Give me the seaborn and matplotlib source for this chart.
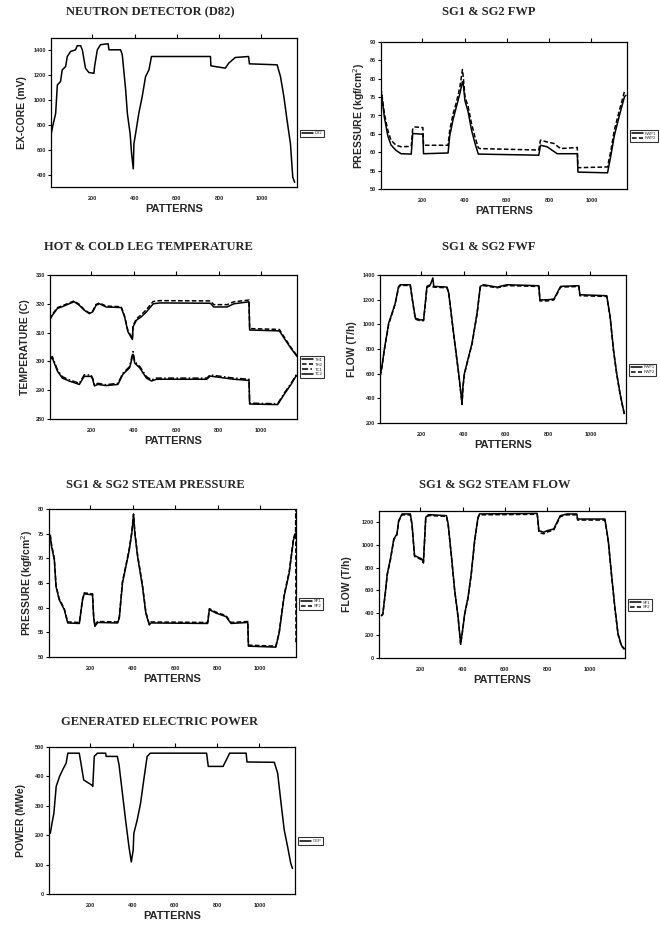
import pandas as pd
import matplotlib
matplotlib.use("Agg")
import matplotlib.pyplot as plt
import seaborn as sns

# ---------- data (pattern, value) ----------
d82 = [(3, 703), (14, 797), (27, 892), (35, 1122), (50, 1149), (58, 1243), (74, 1270), (82, 1351),
       (98, 1392), (113, 1400), (121, 1405), (129, 1438), (145, 1438), (153, 1405), (168, 1257),
       (184, 1222), (208, 1216), (211, 1270), (224, 1405), (239, 1446), (275, 1454), (279, 1405),
       (334, 1405), (342, 1365), (358, 1081), (366, 892), (379, 730), (386, 568), (394, 446),
       (397, 649), (405, 730), (420, 892), (436, 1027), (452, 1189), (468, 1243), (480, 1351),
       (759, 1351), (761, 1276), (782, 1270), (829, 1257), (845, 1297), (876, 1343), (939, 1351),
       (943, 1292), (1074, 1284), (1090, 1189), (1106, 1027), (1121, 838), (1137, 649),
       (1148, 378), (1157, 338)]

fwp1 = [(5, 77), (21, 69.5), (37, 64.5), (52, 62), (76, 60.5), (100, 59.6), (148, 59.5),
        (155, 65.1), (203, 64.9), (206, 59.6), (322, 59.8), (330, 64.5), (346, 69), (362, 72.5),
        (378, 76), (390, 79.2), (394, 78.5), (402, 74), (417, 71), (433, 66), (449, 62.5),
        (465, 59.5), (751, 59.2), (759, 61.9), (790, 61.5), (838, 59.6), (933, 59.6), (936, 54.6),
        (1076, 54.4), (1092, 59.2), (1108, 64.5), (1132, 70), (1156, 75.1), (1163, 75.5)]
fwp2 = [(5, 77.5), (21, 70.5), (37, 66), (52, 63.3), (76, 61.9), (100, 61.5), (148, 61.6),
        (155, 66.5), (163, 66.9), (203, 66.7), (206, 61.9), (322, 61.9), (330, 66), (346, 70.5),
        (362, 73.7), (378, 77.8), (390, 82.5), (394, 80.5), (402, 75.1), (417, 72.4), (433, 67.8),
        (449, 64.2), (465, 61.2), (473, 61), (751, 60.6), (759, 63.3), (790, 62.8), (822, 62.4),
        (854, 61), (933, 61.3), (936, 55.8), (1076, 56), (1092, 60.5), (1108, 66), (1132, 71.4),
        (1156, 76.5), (1163, 76.9)]

th1 = [(3, 314.3), (16, 316), (40, 318.4), (63, 319), (95, 320), (119, 320.7), (143, 319.5),
       (166, 317.8), (190, 316.6), (206, 317.2), (222, 319.5), (238, 320), (269, 318.9),
       (340, 318.7), (356, 315.5), (372, 310.3), (393, 307.6), (396, 312), (412, 314.3),
       (435, 315.5), (459, 317.2), (491, 320), (522, 320.3), (760, 320.2), (776, 318.9),
       (839, 318.9), (871, 320), (942, 320.7), (945, 310.9), (1085, 310.6), (1108, 308),
       (1140, 304.5), (1168, 301.7)]
th2 = [(3, 314.6), (16, 316.3), (40, 318.7), (63, 319.3), (95, 320.3), (119, 321), (143, 319.8),
       (166, 318), (190, 316.8), (206, 317.5), (222, 319.8), (238, 320.3), (269, 319.2),
       (340, 319), (356, 315.8), (372, 310.6), (393, 308), (396, 312.4), (412, 314.8),
       (435, 316.2), (459, 318), (491, 320.8), (522, 321.1), (760, 321), (776, 319.7),
       (839, 319.7), (871, 320.7), (942, 321.3), (945, 311.4), (1085, 311.1), (1108, 308.4),
       (1140, 304.8), (1168, 302)]
tc1 = [(3, 301.1), (16, 301.7), (40, 297.1), (63, 294.7), (95, 293.6), (119, 293), (143, 292.4),
       (166, 295.3), (198, 295.3), (206, 294.2), (214, 291.9), (230, 292.4), (269, 291.9),
       (325, 292.4), (348, 295.9), (380, 298.2), (396, 303.4), (404, 299.9), (428, 298.2),
       (459, 294.7), (483, 293.6), (507, 294.2), (743, 294.2), (759, 295.3), (871, 294.2),
       (942, 293.8), (945, 285.5), (1077, 285.3), (1108, 289), (1140, 292.4), (1164, 295.3),
       (1168, 295.3)]
tc2 = [(3, 300.6), (16, 301.2), (40, 296.6), (63, 294.2), (95, 293.2), (119, 292.6), (143, 292),
       (166, 294.8), (198, 294.8), (206, 293.8), (214, 291.5), (230, 292), (269, 291.6),
       (325, 292), (348, 295.5), (380, 297.8), (396, 302.5), (404, 299.4), (428, 297.7),
       (459, 294.2), (483, 293.2), (507, 293.8), (743, 293.8), (759, 294.9), (871, 293.8),
       (942, 293.4), (945, 285.2), (1077, 285), (1108, 288.6), (1140, 292), (1164, 295),
       (1168, 295)]

fwf1 = [(6, 589), (14, 656), (25, 792), (46, 1009), (62, 1091), (77, 1172), (93, 1308),
        (101, 1321), (148, 1321), (156, 1226), (172, 1050), (196, 1036), (211, 1036),
        (216, 1118), (227, 1308), (243, 1321), (255, 1376), (259, 1308), (322, 1302), (330, 1253),
        (353, 928), (377, 602), (393, 358), (397, 494), (404, 602), (416, 684), (440, 846),
        (464, 1091), (479, 1308), (495, 1321), (558, 1302), (606, 1321), (756, 1313), (761, 1199),
        (796, 1199), (827, 1205), (859, 1308), (945, 1313), (950, 1240), (1077, 1232),
        (1093, 1063), (1109, 792), (1124, 602), (1140, 439), (1153, 331), (1160, 277)]
fwf2 = [(6, 580), (14, 650), (25, 785), (46, 1000), (62, 1085), (77, 1165), (93, 1300),
        (101, 1315), (148, 1316), (156, 1220), (172, 1042), (196, 1028), (211, 1030),
        (216, 1110), (227, 1300), (243, 1314), (259, 1302), (322, 1296), (330, 1246),
        (353, 920), (377, 596), (393, 350), (397, 485), (404, 596), (416, 678), (440, 840),
        (464, 1085), (479, 1300), (495, 1314), (558, 1296), (606, 1314), (756, 1307), (761, 1190),
        (796, 1190), (827, 1198), (859, 1302), (945, 1307), (950, 1232), (1077, 1226),
        (1093, 1056), (1109, 786), (1124, 596), (1140, 432), (1153, 325), (1160, 272)]

sp1 = [(11, 74.4), (17, 72.4), (30, 69.7), (38, 64.3), (53, 61.6), (77, 59.6), (93, 56.9),
       (148, 56.8), (163, 61.6), (171, 62.8), (210, 62.6), (215, 58.2), (221, 56.2), (234, 57),
       (328, 56.9), (336, 57.9), (351, 65), (367, 68.3), (383, 71.7), (395, 75.1), (403, 78.8),
       (409, 75.1), (422, 70.4), (445, 64.3), (461, 58.9), (477, 56.5), (485, 56.9), (752, 56.8),
       (760, 59.6), (791, 58.9), (838, 58.2), (862, 56.8), (941, 57), (944, 52.2), (1073, 52),
       (1089, 54.9), (1112, 62.3), (1136, 67), (1156, 73.7), (1167, 75.1)]
sp2 = [(11, 74.8), (17, 72.8), (30, 70), (38, 64.6), (53, 61.8), (77, 59.8), (93, 57.1),
       (148, 57), (163, 61.8), (171, 63), (210, 62.8), (215, 58.4), (221, 56.4), (234, 57.2),
       (328, 57.1), (336, 58.1), (351, 65.3), (367, 68.6), (383, 72), (395, 75.4), (403, 79),
       (409, 75.4), (422, 70.7), (445, 64.6), (461, 59.1), (477, 56.7), (485, 57.1), (752, 57),
       (760, 59.8), (791, 59.1), (838, 58.4), (862, 57), (941, 57.2), (944, 52.4), (1073, 52.2),
       (1089, 55.1), (1112, 62.6), (1136, 67.3), (1156, 74), (1166, 75.4), (1167, 80),
       (1168, 52.5)]

sf1 = [(16, 376), (23, 391), (36, 597), (44, 744), (59, 876), (75, 1053), (90, 1097), (98, 1215),
       (114, 1274), (153, 1274), (161, 1185), (173, 906), (207, 876), (215, 847), (226, 1244),
       (239, 1268), (324, 1259), (332, 1185), (348, 891), (363, 597), (379, 362), (391, 126),
       (398, 215), (410, 391), (426, 538), (441, 744), (457, 1038), (473, 1244), (480, 1274),
       (753, 1279), (761, 1126), (784, 1112), (800, 1126), (831, 1141), (862, 1259), (894, 1274),
       (940, 1274), (944, 1229), (1073, 1229), (1089, 1038), (1104, 744), (1120, 450),
       (1135, 215), (1151, 112), (1165, 82)]
sf2 = [(16, 370), (23, 385), (36, 590), (44, 736), (59, 868), (75, 1045), (90, 1090), (98, 1208),
       (114, 1266), (153, 1266), (161, 1178), (173, 898), (207, 868), (215, 840), (226, 1236),
       (239, 1260), (324, 1252), (332, 1178), (348, 884), (363, 590), (379, 355), (391, 120),
       (398, 208), (410, 384), (426, 530), (441, 736), (457, 1030), (473, 1236), (480, 1266),
       (753, 1271), (761, 1110), (784, 1098), (800, 1114), (831, 1132), (862, 1251), (894, 1266),
       (940, 1266), (944, 1220), (1073, 1220), (1089, 1030), (1104, 736), (1120, 443),
       (1135, 208), (1151, 106), (1165, 76)]

gep = [(11, 206), (19, 240), (28, 274), (39, 366), (55, 400), (70, 423), (86, 445), (94, 479),
       (148, 479), (156, 445), (169, 388), (206, 371), (212, 366), (219, 468), (234, 479),
       (273, 479), (275, 468), (328, 468), (336, 440), (352, 343), (367, 252), (383, 161),
       (394, 109), (403, 149), (406, 206), (422, 252), (438, 309), (453, 388), (469, 468),
       (484, 479), (750, 479), (758, 434), (789, 434), (828, 434), (859, 479), (937, 479),
       (941, 449), (1070, 448), (1086, 411), (1102, 309), (1117, 218), (1133, 161), (1148, 104),
       (1156, 87)]

W, H = 660, 930

# panel: title, title pos, axes box (l, r, t, b px), series, ylabel, ylim, yticks, ylabel x
panels = [
    ("NEUTRON DETECTOR (D82)", (150, 12), (51, 297, 38, 187), [("D82", d82)],
     "EX-CORE (mV)", (300, 1500), range(400, 1401, 200), -0.118),
    ("SG1 & SG2 FWP", (489, 12), (381, 627, 42, 189), [("FWP1", fwp1), ("FWP2", fwp2)],
     "PRESSURE (kgf/cm$^2$)", (50, 90), range(50, 91, 5), -0.09),
    ("HOT & COLD LEG TEMPERATURE", (148, 247), (50, 297, 275, 419),
     [("TH1", th1), ("TH2", th2), ("TC1", tc1), ("TC2", tc2)],
     "TEMPERATURE (C)", (280, 330), range(280, 331, 10), -0.1),
    ("SG1 & SG2 FWF", (489, 247), (380, 626, 275, 423), [("FWF1", fwf1), ("FWF2", fwf2)],
     "FLOW (T/h)", (200, 1400), range(200, 1401, 200), -0.114),
    ("SG1 & SG2 STEAM PRESSURE", (155, 485), (49, 296, 509, 657), [("SP1", sp1), ("SP2", sp2)],
     "PRESSURE (kgf/cm$^2$)", (50, 80), range(50, 81, 5), -0.089),
    ("SG1 & SG2 STEAM FLOW", (495, 485), (379, 625, 511, 658), [("SF1", sf1), ("SF2", sf2)],
     "FLOW (T/h)", (0, 1300), range(0, 1201, 200), -0.13),
    ("GENERATED ELECTRIC POWER", (160, 722), (49, 295, 747, 894), [("GEP", gep)],
     "POWER (MWe)", (0, 500), range(0, 501, 100), -0.114),
]

dash_cycle = ["", (3, 1.5), (4, 1.5, 1, 1.5), ""]

sns.set_style("white")
plt.rcParams['font.family'] = ['Liberation Sans', 'DejaVu Sans']

fig = plt.figure(figsize=(W / 100, H / 100), dpi=100)

for title, tpos, box, series, ylab, ylim, yticks, ylx in panels:
    l, r, t, b = box
    ax = fig.add_axes([l / W, 1 - b / H, (r - l) / W, (b - t) / H])
    rows = []
    for name, pts in series:
        for x, y in pts:
            rows.append({"pattern": x, "value": y, "series": name})
    df = pd.DataFrame(rows)
    names = [s[0] for s in series]
    sns.lineplot(data=df, x="pattern", y="value", hue="series", style="series",
                 palette={n: "black" for n in names},
                 dashes={n: dash_cycle[i] for i, n in enumerate(names)},
                 estimator=None, sort=False, linewidth=1.1, ax=ax)
    ax.set_xlim(5, 1168)
    ax.set_ylim(*ylim)
    ax.set_xticks(range(200, 1001, 200))
    ax.set_yticks(list(yticks))
    ax.tick_params(axis="x", top=True, bottom=False, labelbottom=True, direction="out",
                   length=3, width=0.8, labelsize=4, pad=3.5, color="black")
    ax.tick_params(axis="y", left=True, direction="out", length=2, width=0.8,
                   labelsize=4, pad=1.5, color="black")
    for lab in ax.get_xticklabels() + ax.get_yticklabels():
        lab.set_fontweight("bold")
    for sp in ax.spines.values():
        sp.set_color("black")
        sp.set_linewidth(0.9)
    ax.set_xlabel("PATTERNS", fontsize=8, fontweight="bold")
    ax.set_ylabel(ylab, fontsize=7.5, fontweight="bold")
    ax.xaxis.set_label_coords(0.5, -0.15)
    ax.xaxis.label.set_va("center")
    ax.yaxis.set_label_coords(ylx, 0.5)
    ax.yaxis.label.set_va("center")
    leg = ax.legend(loc="center left", bbox_to_anchor=(1.005, 0.36), fontsize=3,
                    frameon=True, fancybox=False, edgecolor="black", handlelength=2.6,
                    borderpad=0.4, labelspacing=0.2, handletextpad=0.4, title=None)
    leg.get_frame().set_linewidth(0.8)
    fig.text(tpos[0] / W, 1 - tpos[1] / H, title, ha="center", va="center",
             fontsize=9, fontweight="bold", family=["Liberation Serif", "DejaVu Serif"])

fig.savefig("out.png", dpi=100, facecolor="white")
